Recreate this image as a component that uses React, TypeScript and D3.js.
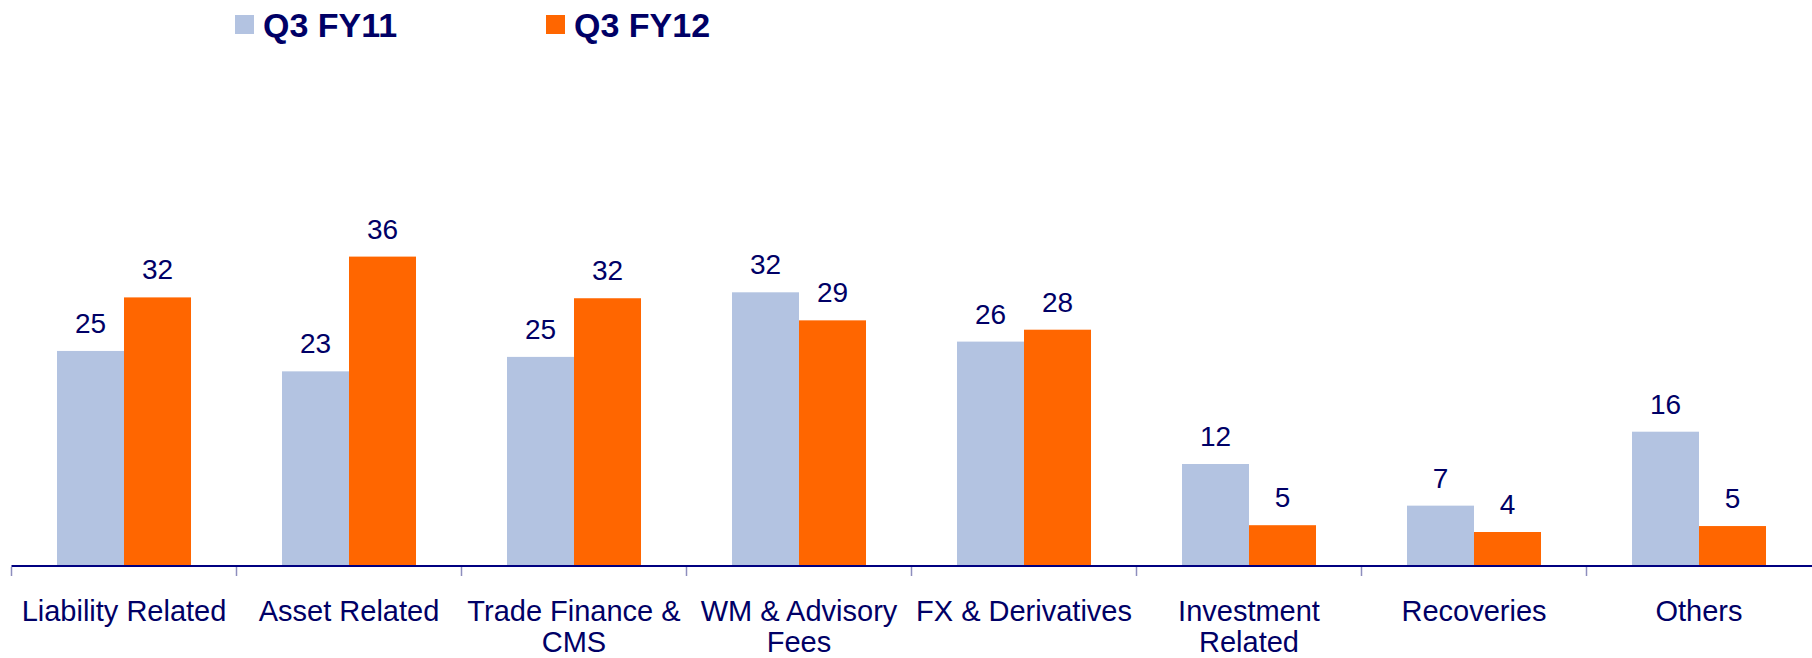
import React from "react";
import * as d3 from "d3";

const categories = [
  "Liability Related",
  "Asset Related",
  "Trade Finance &\nCMS",
  "WM & Advisory\nFees",
  "FX & Derivatives",
  "Investment\nRelated",
  "Recoveries",
  "Others",
];
const seriesNames = ["Q3 FY11", "Q3 FY12"];
const fy11Values = [25.3, 22.9, 24.6, 32.2, 26.4, 12.0, 7.1, 15.8];
const fy12Values = [31.6, 36.4, 31.5, 28.9, 27.8, 4.8, 4.0, 4.7];
const fy11Labels = [25, 23, 25, 32, 26, 12, 7, 16];
const fy12Labels = [32, 36, 32, 29, 28, 5, 4, 5];

const W = 1812;
const H = 658;
const FONT = "'Liberation Sans', Arial, Helvetica, sans-serif";
const TEXT = "#000066";
const COLORS = ["#B3C3E1", "#FF6600"];

export default function App() {
  const x = d3.scaleBand<string>().domain(categories).range([11.5, 1811.5]).paddingInner(0).paddingOuter(0);
  const xi = d3
    .scaleBand<string>()
    .domain(seriesNames)
    .range([0, x.bandwidth()])
    .paddingInner(0)
    .paddingOuter(0.679);
  const y = d3.scaleLinear().domain([0, 40]).range([566, 226]);
  const values = [fy11Values, fy12Values];
  const labels = [fy11Labels, fy12Labels];

  return (
    <svg
      width={W}
      height={H}
      style={{ position: "absolute", left: 0, top: 0, background: "#fff" }}
      fontFamily={FONT}
    >
      {/* legend */}
      {seriesNames.map((s, i) => {
        const lx = i === 0 ? 235 : 546;
        return (
          <g key={s}>
            <rect x={lx} y={15} width={19} height={19} fill={COLORS[i]} />
            <text x={lx + 28} y={37} fontSize={34} fontWeight="bold" fill={TEXT}>
              {s}
            </text>
          </g>
        );
      })}

      {/* bars */}
      {categories.map((c, ci) => (
        <g key={c} transform={`translate(${x(c)},0)`}>
          {seriesNames.map((s, si) => {
            const v = values[si][ci];
            const bx = xi(s)!;
            const top = y(v);
            return (
              <g key={s}>
                <rect x={bx} y={top} width={xi.bandwidth()} height={y(0) - top} fill={COLORS[si]} />
                <text
                  x={bx + xi.bandwidth() / 2}
                  y={top - 18}
                  textAnchor="middle"
                  fontSize={28}
                  fill={TEXT}
                >
                  {labels[si][ci]}
                </text>
              </g>
            );
          })}
        </g>
      ))}

      {/* axis */}
      <line x1={11.5} x2={W} y1={566} y2={566} stroke="#000080" strokeWidth={2} />
      {categories.map((c) => (
        <line
          key={"t" + c}
          x1={x(c)!}
          x2={x(c)!}
          y1={567}
          y2={576}
          stroke="#8E8EBE"
          strokeWidth={1.5}
        />
      ))}
      {categories.map((c) => {
        const lines = c.split("\n");
        const cx = x(c)! + x.bandwidth() / 2;
        return (
          <text key={"l" + c} x={cx} y={621} textAnchor="middle" fontSize={29} fill={TEXT}>
            {lines.map((ln, k) => (
              <tspan key={k} x={cx} dy={k === 0 ? 0 : 31}>
                {ln}
              </tspan>
            ))}
          </text>
        );
      })}
    </svg>
  );
}
